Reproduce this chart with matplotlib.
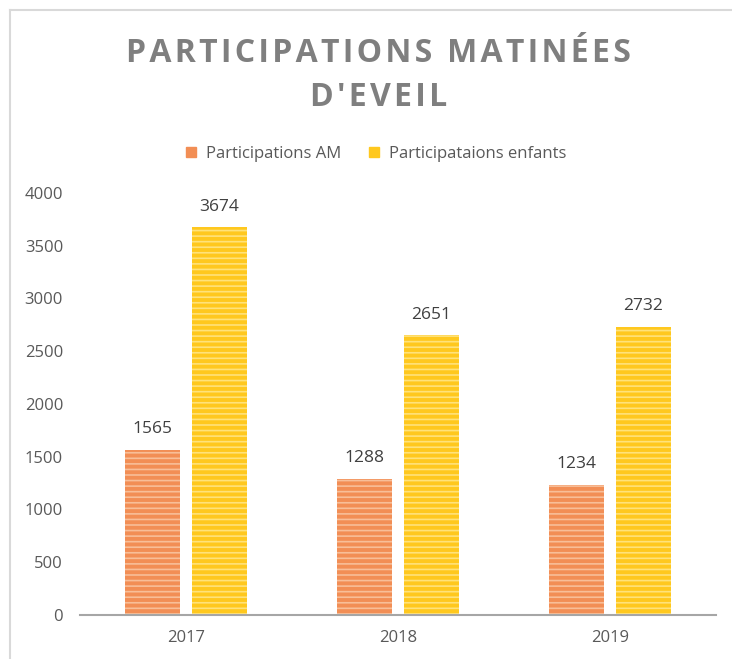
import numpy as np
import matplotlib
matplotlib.use('Agg')
import matplotlib.pyplot as plt
from matplotlib.lines import Line2D

plt.rcParams['font.family'] = ['Open Sans', 'DejaVu Sans']
plt.rcParams['hatch.linewidth'] = 1.2

years = ['2017', '2018', '2019']
am = [1565, 1288, 1234]
enfants = [3674, 2651, 2732]
series_names = ['Participations AM', 'Participataions enfants']
title = "PARTICIPATIONS MATINÉES\nD'EVEIL"

fig = plt.figure(figsize=(7.32, 6.59), dpi=100)
ax = fig.add_axes([0.109, 0.0668, 0.869, 0.6404])

x = np.arange(len(years))
w = 0.26
off = 0.158
b1 = ax.bar(x - off, am, w, color='#F28E55', edgecolor='#F8BE98', linewidth=0, hatch='---')
b2 = ax.bar(x + off, enfants, w, color='#FFC81E', edgecolor='#FFE27A', linewidth=0, hatch='---')

for bars, vals in ((b1, am), (b2, enfants)):
    for r, v in zip(bars, vals):
        ax.text(r.get_x() + r.get_width() / 2, v + 120, str(v), ha='center', va='bottom',
                fontsize=12.5, color='#404040')

ax.set_xlim(-0.5, 2.5)
ax.set_ylim(0, 4000)
ax.set_yticks(range(0, 4001, 500))
ax.set_xticks(x)
ax.set_xticklabels(years)
ax.tick_params(axis='both', length=0, labelsize=12, labelcolor='#595959')
ax.tick_params(axis='y', pad=12)
ax.tick_params(axis='x', pad=11)
for s in ['top', 'right', 'left']:
    ax.spines[s].set_visible(False)
ax.spines['bottom'].set_color('#A6A6A6')
ax.spines['bottom'].set_linewidth(1.5)

# letter-spaced title, like the original
spaced = '\n'.join('\u200a'.join(line) for line in title.split('\n'))
fig.text(0.517, 0.886, spaced, ha='center', va='center', fontsize=23, fontweight='bold',
         color='#7F7F7F', linespacing=1.45)

handles = [Line2D([], [], marker='s', linestyle='', color='#F28E55', markersize=7),
           Line2D([], [], marker='s', linestyle='', color='#FFC81E', markersize=7)]
fig.legend(handles, series_names, loc='center', bbox_to_anchor=(0.513, 0.767), ncol=2,
           frameon=False, fontsize=12, labelcolor='#595959', handletextpad=0.5,
           columnspacing=1.6, handlelength=0.8)

# light frame around the chart area
fig.add_artist(Line2D([0.0137, 0.0137], [0, 0.985], color='#D9D9D9', linewidth=1.5))
fig.add_artist(Line2D([0.0137, 1.0], [0.985, 0.985], color='#D9D9D9', linewidth=1.5))

fig.savefig('out.png', dpi=100, facecolor='white')
